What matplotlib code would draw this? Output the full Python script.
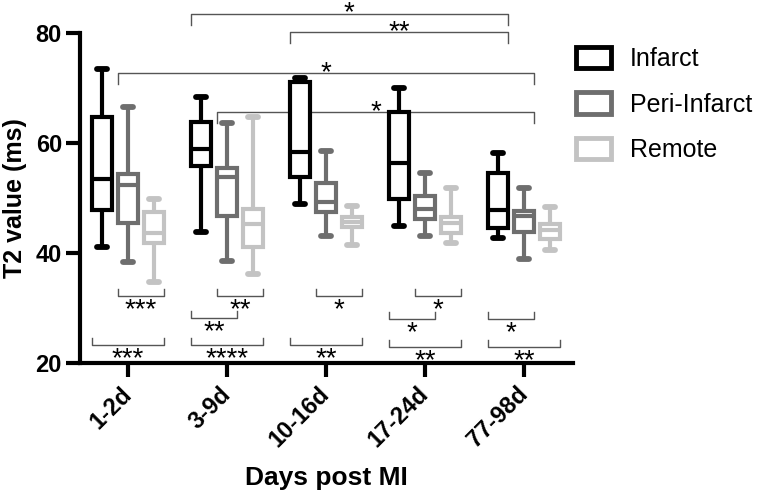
import matplotlib
matplotlib.use("Agg")
import matplotlib.pyplot as plt
from matplotlib.patches import Patch

plt.rcParams["font.family"] = ["Liberation Sans", "DejaVu Sans"]

# ---- data (ms) ----
days = ["1-2d", "3-9d", "10-16d", "17-24d", "77-98d"]
regions = ["Infarct", "Peri-Infarct", "Remote"]
colors = ["#000000", "#6e6e6e", "#c3c3c3"]

# five-number summaries per region, one entry per time point
infarct_whislo = [41.1, 43.8, 48.9, 44.9, 42.7]
infarct_q1 = [47.8, 55.8, 53.8, 49.8, 44.5]
infarct_med = [53.5, 58.9, 58.4, 56.4, 47.8]
infarct_q3 = [64.7, 63.8, 71.1, 65.6, 54.5]
infarct_whishi = [73.4, 68.4, 71.8, 70.0, 58.2]

peri_whislo = [38.4, 38.5, 43.1, 43.1, 38.9]
peri_q1 = [45.5, 46.7, 47.4, 46.2, 43.8]
peri_med = [52.4, 53.8, 49.2, 48.0, 46.7]
peri_q3 = [54.4, 55.5, 52.7, 50.4, 47.6]
peri_whishi = [66.5, 63.6, 58.5, 54.5, 51.8]

remote_whislo = [34.7, 36.2, 41.5, 41.8, 40.5]
remote_q1 = [41.8, 41.1, 44.7, 43.6, 42.5]
remote_med = [43.6, 45.3, 45.6, 45.4, 44.2]
remote_q3 = [47.4, 48.0, 46.5, 46.5, 45.3]
remote_whishi = [49.8, 64.7, 48.5, 51.8, 48.4]

# significance brackets: (group_a, region_a, group_b, region_b, level, label)
top_brackets = [
    (1, 0, 4, 0, 83.5, "*"),
    (2, 0, 4, 0, 80.2, "**"),
    (0, 1, 4, 1, 72.7, "*"),
    (1, 1, 4, 1, 65.6, "*"),
]
bottom_brackets = [
    (0, 1, 0, 2, 32.2, "***"),
    (0, 0, 0, 2, 23.3, "***"),
    (1, 1, 1, 2, 32.2, "**"),
    (1, 0, 1, 1, 28.2, "**"),
    (1, 0, 1, 2, 23.3, "****"),
    (2, 1, 2, 2, 32.2, "*"),
    (2, 0, 2, 2, 23.3, "**"),
    (3, 1, 3, 2, 32.2, "*"),
    (3, 0, 3, 1, 28.0, "*"),
    (3, 0, 3, 2, 22.9, "**"),
    (4, 0, 4, 1, 28.0, "*"),
    (4, 0, 4, 2, 22.9, "**"),
]

OFFSET = 0.265
WIDTH = 0.2
LW = 3.0
STAR_FS = 20


def box_stats(lo, q1, med, q3, hi):
    return [dict(whislo=a, q1=b, med=c, q3=d, whishi=e, fliers=[])
            for a, b, c, d, e in zip(lo, q1, med, q3, hi)]


def box_x(g, r):
    return g + (r - 1) * OFFSET


fig = plt.figure(figsize=(7.62, 4.92), dpi=100)
ax = fig.add_axes([80 / 762, 1 - 363 / 492, (573 - 80) / 762, (363 - 33) / 492])

all_stats = [
    box_stats(infarct_whislo, infarct_q1, infarct_med, infarct_q3, infarct_whishi),
    box_stats(peri_whislo, peri_q1, peri_med, peri_q3, peri_whishi),
    box_stats(remote_whislo, remote_q1, remote_med, remote_q3, remote_whishi),
]
for r, (stats, col) in enumerate(zip(all_stats, colors)):
    pos = [box_x(g, r) for g in range(len(days))]
    ln = dict(color=col, linewidth=LW, solid_capstyle="butt")
    ax.bxp(stats, positions=pos, widths=WIDTH, capwidths=0.1,
           patch_artist=True, showfliers=False,
           boxprops=dict(facecolor="white", edgecolor=col, linewidth=LW),
           medianprops=ln, whiskerprops=ln,
           capprops=dict(color=col, linewidth=LW + 1.2, solid_capstyle="round"),
           manage_ticks=False, zorder=3)

# brackets; star offsets in points relative to the bracket line (baseline)
bk = dict(color="#555555", lw=1.0, clip_on=False)
for ga, ra, gb, rb, lev, lab in top_brackets:
    x1 = box_x(ga, ra) - WIDTH / 2
    x2 = box_x(gb, rb) + WIDTH / 2
    ax.plot([x1, x1, x2, x2], [lev - 2.0, lev, lev, lev - 2.0], **bk)
    ax.annotate(lab, xy=((x1 + x2) / 2, lev), xytext=(0, -5),
                textcoords="offset points", ha="center", va="baseline",
                fontsize=STAR_FS, annotation_clip=False)
for ga, ra, gb, rb, lev, lab in bottom_brackets:
    x1 = box_x(ga, ra) - WIDTH / 2
    x2 = box_x(gb, rb) + WIDTH / 2
    ax.plot([x1, x1, x2, x2], [lev + 1.3, lev, lev, lev + 1.3], **bk)
    ax.annotate(lab, xy=((x1 + x2) / 2, lev), xytext=(0, -15.5),
                textcoords="offset points", ha="center", va="baseline",
                fontsize=STAR_FS, annotation_clip=False)

ax.set_xlim(-0.485, 4.495)
ax.set_ylim(20, 80)
ax.set_yticks([20, 40, 60, 80])
ax.set_xticks(range(len(days)))
ax.set_xticklabels(days, rotation=45, ha="right", va="center",
                   rotation_mode="anchor")
for t in ax.get_xticklabels() + ax.get_yticklabels():
    t.set_fontweight("bold")
    t.set_fontsize(17)
ax.tick_params(width=3, length=10)
ax.tick_params(axis="y", pad=3)
ax.tick_params(axis="x", pad=10)
for s in ["top", "right"]:
    ax.spines[s].set_visible(False)
for s in ["left", "bottom"]:
    ax.spines[s].set_linewidth(3)
ax.set_xlabel("Days post MI", fontsize=19, fontweight="bold", labelpad=10)
ax.set_ylabel("T2 value (ms)", fontsize=18, fontweight="bold", labelpad=6)

handles = [Patch(facecolor="white", edgecolor=c, linewidth=3.5, label=l)
           for c, l in zip(colors, regions)]
fig.legend(handles=handles, loc="upper left", bbox_to_anchor=(0.730, 0.946),
           frameon=False, fontsize=18, handlelength=1.4, handleheight=0.95,
           labelspacing=0.85, handletextpad=0.75, borderpad=0.3)

fig.savefig("out.png", dpi=100)
